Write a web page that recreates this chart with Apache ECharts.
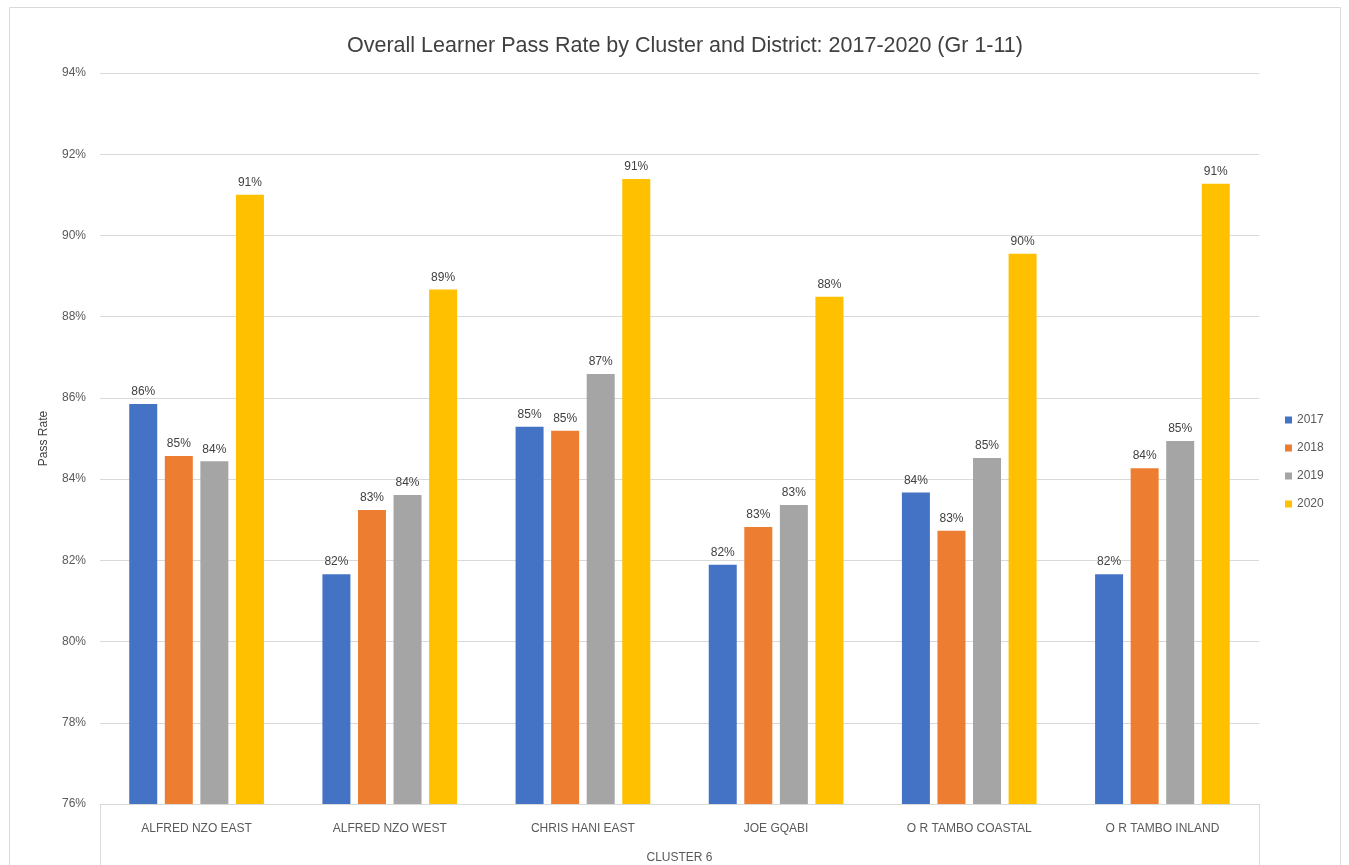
<!DOCTYPE html>
<html>
<head>
<meta charset="utf-8">
<title>Overall Learner Pass Rate by Cluster and District</title>
<script src="https://cdn.jsdelivr.net/npm/echarts@6/dist/echarts.min.js"></script>
<style>
  html, body { margin: 0; padding: 0; background: #ffffff; }
  #chart { width: 1349px; height: 865px; }
</style>
</head>
<body>
<div id="chart"></div>
<script>
// Districts in Cluster 6 and their learner pass rates (%) per year
const districts = ['ALFRED NZO EAST', 'ALFRED NZO WEST', 'CHRIS HANI EAST', 'JOE GQABI', 'O R TAMBO COASTAL', 'O R TAMBO INLAND'];
const clusterName = ['CLUSTER 6'];
const years = ['2017', '2018', '2019', '2020'];
const pass2017 = [85.85, 81.66, 85.29, 81.89, 83.67, 81.66];
const pass2018 = [84.57, 83.24, 85.19, 82.82, 82.73, 84.27];
const pass2019 = [84.44, 83.61, 86.59, 83.36, 84.52, 84.94];
const pass2020 = [91.00, 88.67, 91.39, 88.49, 89.55, 91.27];
const yTicks = { min: 76, max: 94, step: 2 };

const yearValues = [pass2017, pass2018, pass2019, pass2020];
const colors = ['#4472C4', '#ED7D31', '#A5A5A5', '#FFC000'];
const FONT = 'Liberation Sans';
const TEXT = '#595959';

const chart = echarts.init(document.getElementById('chart'), null, { renderer: 'canvas' });

const series = years.map((y, i) => ({
  name: y,
  type: 'bar',
  xAxisIndex: 0,
  yAxisIndex: 0,
  data: yearValues[i],
  barWidth: 28,
  barGap: '27%',
  itemStyle: { color: colors[i] },
  label: {
    show: true,
    position: 'top',
    distance: 6,
    color: '#404040',
    fontFamily: FONT,
    fontSize: 12,
    formatter: p => Math.round(p.value) + '%'
  }
}));

chart.setOption({
  backgroundColor: '#ffffff',
  animation: false,
  textStyle: { fontFamily: FONT },
  title: {
    text: 'Overall Learner Pass Rate by Cluster and District: 2017-2020 (Gr 1-11)',
    left: 680,
    top: 30,
    textAlign: 'center',
    textStyle: { fontFamily: FONT, fontSize: 21.5, fontWeight: 'normal', color: '#404040' }
  },
  legend: {
    data: years,
    orient: 'vertical',
    left: 1280,
    top: 409,
    itemWidth: 7,
    itemHeight: 7,
    itemGap: 16,
    icon: 'rect',
    textStyle: { color: TEXT, fontFamily: FONT, fontSize: 12 }
  },
  grid: { left: 100, right: 90, top: 73, bottom: 61, containLabel: false },
  xAxis: [
    {
      type: 'category',
      data: districts,
      axisLine: { show: true, lineStyle: { color: '#d9d9d9' } },
      axisTick: { show: false },
      axisLabel: { color: TEXT, fontFamily: FONT, fontSize: 12, margin: 19 }
    },
    {
      type: 'category',
      data: clusterName,
      position: 'bottom',
      axisLine: { show: false },
      axisTick: { show: true, length: 70, lineStyle: { color: '#d9d9d9' } },
      axisLabel: { color: TEXT, fontFamily: FONT, fontSize: 12, margin: 48 }
    }
  ],
  yAxis: {
    type: 'value',
    min: yTicks.min,
    max: yTicks.max,
    interval: yTicks.step,
    name: 'Pass Rate',
    nameLocation: 'middle',
    nameGap: 50,
    nameTextStyle: { color: '#404040', fontFamily: FONT, fontSize: 12 },
    axisLine: { show: false },
    axisTick: { show: false },
    axisLabel: { color: TEXT, fontFamily: FONT, fontSize: 12, margin: 14, formatter: v => v + '%' },
    splitLine: { show: true, lineStyle: { color: '#d9d9d9', width: 1 } }
  },
  graphic: [
    {
      type: 'rect',
      silent: true,
      z: -10,
      shape: { x: 9.5, y: 7.5, width: 1331, height: 870 },
      style: { fill: 'none', stroke: '#d9d9d9', lineWidth: 1 }
    }
  ],
  series: series
});
</script>
</body>
</html>
